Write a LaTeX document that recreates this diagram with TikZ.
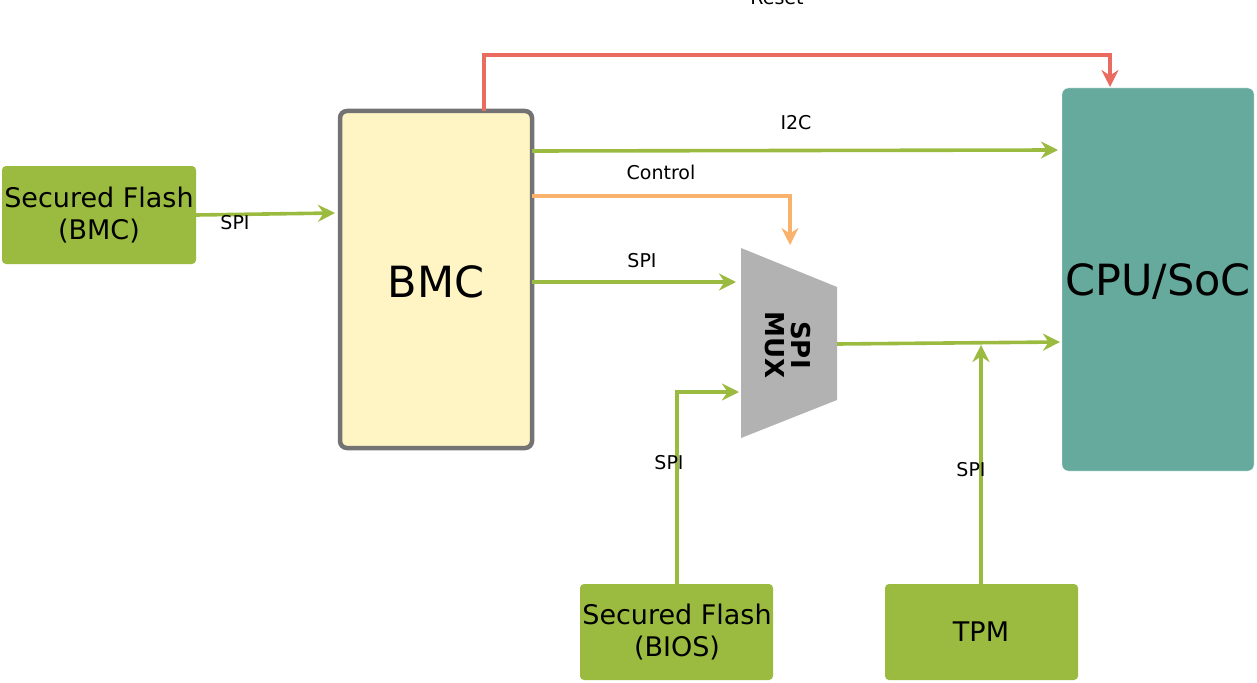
\documentclass[tikz,border=0pt]{standalone}
\usepackage{fontspec}
\setmainfont{DejaVu Sans}
\usetikzlibrary{arrows.meta}
\definecolor{gr}{HTML}{9BBB40}
\definecolor{rd}{HTML}{EA6B60}
\definecolor{org}{HTML}{F9B26B}
\definecolor{teal}{HTML}{66AA9D}
\definecolor{yel}{HTML}{FFF4C4}
\tikzset{x=1pt,y=-1pt,
 gbox/.style={fill=gr,rounded corners=4pt,font=\fontsize{27}{32}\selectfont,align=center},
 conn/.style={line width=3.6pt,-{Stealth[length=17pt,width=17pt]}},
 lbl/.style={font=\fontsize{19}{22}\selectfont}}
\begin{document}
\begin{tikzpicture}
\useasboundingbox (0,0) rectangle (1257,682);
\path[gbox] (2,166) rectangle (196,264);
\node[gbox,fill=none] (sfb) at (99,215) {Secured Flash\\(BMC)};
\path[gbox] (580,584) rectangle (773,680);
\node[gbox,fill=none] (sfbios) at (677,632) {Secured Flash\\(BIOS)};
\path[gbox] (885,584) rectangle (1078,680);
\node[gbox,fill=none] (tpm) at (981,632) {TPM};
\draw[fill=yel,draw=gray!90!black,line width=4.5pt,rounded corners=7pt] (340,111) rectangle (532,448);
\node[font=\fontsize{43}{48}\selectfont] (bmc) at (436,282) {BMC};
\draw[fill=teal,draw=white,rounded corners=6pt] (1062,88) rectangle (1254,471);
\node[font=\fontsize{43}{48}\selectfont] (cpu) at (1158,282) {CPU/SoC};
\fill[gray!60] (741,248) -- (837,287) -- (837,400) -- (741,438) -- cycle;
\node[rotate=-90,font=\bfseries\fontsize{26}{26}\selectfont,align=center] (mux) at (788,345) {SPI\\MUX};
\draw[conn,rd] (484,111) -- (484,55) -- (1110,55) -- (1110,87);
\node[lbl] at (777,-2) {Reset};
\draw[conn,gr] (532,151) -- (1058,150);
\node[lbl] at (796,123) {I2C};
\draw[conn,org] (532,196) -- (790,196) -- (790,245);
\node[lbl] at (661,172) {Control};
\draw[conn,gr] (532,282) -- (736,282);
\node[lbl] at (642,261) {SPI};
\draw[conn,gr] (196,215) -- (335,213);
\node[lbl] at (235,223) {SPI};
\draw[conn,gr] (837,344) -- (1060,342);
\draw[conn,gr] (981,584) -- (981,345);
\node[lbl] at (971,470) {SPI};
\draw[conn,gr] (677,584) -- (677,392) -- (739,392);
\node[lbl] at (669,463) {SPI};
\end{tikzpicture}
\end{document}
